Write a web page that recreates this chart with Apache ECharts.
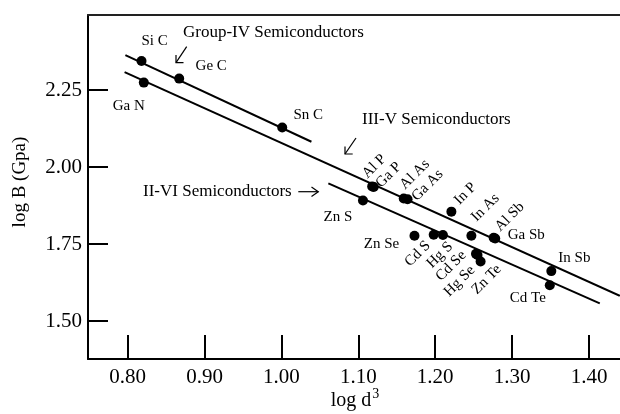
<!DOCTYPE html>
<html>
<head>
<meta charset="utf-8">
<script src="https://cdn.jsdelivr.net/npm/echarts@6/dist/echarts.min.js"></script>
<style>html,body{margin:0;padding:0;background:#fff}#c{width:620px;height:414px}</style>
</head>
<body>
<div id="c"></div>
<script>
// ---- data ----
var groupIVNames = ['Si C', 'Ge C', 'Sn C'];
var groupIVX = [0.818, 0.867, 1.001];
var groupIVY = [2.344, 2.287, 2.128];

var iiiVNames = ['Ga N', 'Al P', 'Ga P', 'Al As', 'Ga As', 'In P', 'In As', 'Al Sb', 'Ga Sb', 'In Sb'];
var iiiVX = [0.821, 1.118, 1.120, 1.159, 1.164, 1.221, 1.247, 1.276, 1.278, 1.351];
var iiiVY = [2.274, 1.937, 1.935, 1.898, 1.895, 1.855, 1.777, 1.770, 1.768, 1.662];

var iiVINames = ['Zn S', 'Zn Se', 'Cd S', 'Hg S', 'Cd Se', 'Hg Se', 'Zn Te', 'Cd Te'];
var iiVIX = [1.106, 1.173, 1.198, 1.210, 1.253, 1.255, 1.259, 1.349];
var iiVIY = [1.891, 1.777, 1.780, 1.779, 1.718, 1.714, 1.693, 1.616];

// fitted lines (endpoints)
var lineIVX = [0.797, 1.039];
var lineIVY = [2.363, 2.082];
var lineIIIVX = [0.796, 1.44];
var lineIIIVY = [2.308, 1.582];
var lineIIVIX = [1.061, 1.414];
var lineIIVIY = [1.947, 1.557];

var xTicks = [0.80, 0.90, 1.00, 1.10, 1.20, 1.30, 1.40];
var yTicks = [1.50, 1.75, 2.00, 2.25];

// ---- label styling (pixel offsets from the point, rotation in degrees) ----
var labelStyle = {
  'Si C': [13, -20, 0], 'Ge C': [32, -13, 0], 'Sn C': [26, -13, 0], 'Ga N': [-15, 23, 0],
  'Al P': [2, -20, 45], 'Ga P': [15, -12, 45], 'Al As': [11, -24, 45], 'Ga As': [20, -14, 45],
  'In P': [14, -18, 45], 'In As': [14, -28, 45], 'Al Sb': [16, -21, 45], 'Ga Sb': [31, -3, 0],
  'In Sb': [23, -13, 0], 'Cd Te': [-22, 13, 0], 'Zn S': [-25, 16, 0], 'Zn Se': [-33, 8, 0],
  'Cd S': [-16, 19, 45], 'Hg S': [-3, 20, 45], 'Cd Se': [-25, 12, 45], 'Hg Se': [-18, 26, 45],
  'Zn Te': [6, 18, 45]
};

function pairs(xs, ys) { return xs.map(function (x, i) { return [x, ys[i]]; }); }

var serif = 'Liberation Serif';
var ink = '#000';
var chart = echarts.init(document.getElementById('c'), null, { renderer: 'canvas' });

var dotSeries = function (xs, ys) {
  return { type: 'scatter', data: pairs(xs, ys), symbol: 'circle', symbolSize: 10,
    itemStyle: { color: ink, opacity: 1 }, z: 5, silent: true };
};
var lineSeries = function (xs, ys) {
  return { type: 'line', data: pairs(xs, ys), symbol: 'none', silent: true,
    lineStyle: { color: ink, width: 2 }, z: 4 };
};

var option = {
  animation: false,
  backgroundColor: '#fff',
  grid: { left: 88, top: 15, right: 0, bottom: 55, containLabel: false, outerBoundsMode: 'none' },
  xAxis: [{
    type: 'value', min: 0.7484, max: 1.4403, position: 'bottom',
    splitLine: { show: false },
    axisLine: { show: true, onZero: false, lineStyle: { color: ink, width: 2 } },
    axisTick: { show: true, inside: true, length: 24, customValues: xTicks, lineStyle: { color: ink, width: 2 } },
    axisLabel: { customValues: xTicks, margin: 8, fontFamily: serif, fontSize: 21, color: ink,
      formatter: function (v) { return v.toFixed(2); } }
  }, {
    type: 'value', min: 0.7484, max: 1.4403, position: 'top',
    splitLine: { show: false },
    axisLine: { show: true, onZero: false, lineStyle: { color: '#222', width: 2 } },
    axisTick: { show: false }, axisLabel: { show: false }
  }],
  yAxis: {
    type: 'value', min: 1.3766, max: 2.4935,
    name: 'log B (Gpa)', nameLocation: 'middle', nameGap: 58, nameRotate: 90,
    nameTextStyle: { fontFamily: serif, fontSize: 19, color: ink, padding: [0, 0, 0, 10] },
    splitLine: { show: false },
    axisLine: { show: true, onZero: false, lineStyle: { color: ink, width: 2 } },
    axisTick: { show: true, inside: true, length: 20, customValues: yTicks, lineStyle: { color: ink, width: 2 } },
    axisLabel: { customValues: yTicks, margin: 6, fontFamily: serif, fontSize: 21, color: ink,
      formatter: function (v) { return v.toFixed(2); } }
  },
  series: [
    lineSeries(lineIVX, lineIVY),
    lineSeries(lineIIIVX, lineIIIVY),
    lineSeries(lineIIVIX, lineIIVIY),
    dotSeries(groupIVX, groupIVY),
    dotSeries(iiiVX, iiiVY),
    dotSeries(iiVIX, iiVIY)
  ]
};
chart.setOption(option);

// ---- point labels and annotations ----
var graphics = [];
function addLabels(names, xs, ys) {
  names.forEach(function (n, i) {
    var p = chart.convertToPixel({ gridIndex: 0 }, [xs[i], ys[i]]);
    var s = labelStyle[n];
    graphics.push({
      type: 'text', x: p[0] + s[0], y: p[1] + s[1], rotation: s[2] * Math.PI / 180,
      silent: true, z: 10,
      style: { text: n, fontFamily: serif, fontSize: 15, fill: ink, align: 'center', verticalAlign: 'middle' }
    });
  });
}
addLabels(groupIVNames, groupIVX, groupIVY);
addLabels(iiiVNames, iiiVX, iiiVY);
addLabels(iiVINames, iiVIX, iiVIY);

// x-axis title with superscript
graphics.push({ type: 'text', x: 355, y: 399, silent: true, z: 10,
  style: { text: '{m|log d}{sup|3}', align: 'center', verticalAlign: 'middle',
    rich: {
      m: { fontFamily: serif, fontSize: 20, fill: ink, lineHeight: 24, verticalAlign: 'bottom' },
      sup: { fontFamily: serif, fontSize: 14, fill: ink, lineHeight: 24, verticalAlign: 'top', padding: [0, 0, 0, 1] }
    } } });

function note(text, x, y) {
  graphics.push({ type: 'text', x: x, y: y, silent: true, z: 10,
    style: { text: text, fontFamily: serif, fontSize: 17, fill: ink, align: 'left', verticalAlign: 'middle' } });
}
note('Group-IV Semiconductors', 183, 33);
note('III-V Semiconductors', 362, 120);
note('II-VI Semiconductors', 143, 192);

function arrow(pts) {
  graphics.push({ type: 'polyline', silent: true, z: 10, shape: { points: pts },
    style: { stroke: ink, lineWidth: 1.2, fill: null } });
}
// Group-IV arrow
arrow([[186.7, 46.7], [176, 62.7]]);
arrow([[176, 55], [176, 62.7], [183.5, 62.7]]);
// III-V arrow
arrow([[356, 138], [345, 154]]);
arrow([[345, 146.5], [345, 154], [352.7, 154]]);
// II-VI arrow
arrow([[298.3, 191.7], [318.3, 191.7]]);
arrow([[311.5, 187], [318.3, 191.7], [311.5, 196.4]]);

chart.setOption({ graphic: graphics });
</script>
</body>
</html>
